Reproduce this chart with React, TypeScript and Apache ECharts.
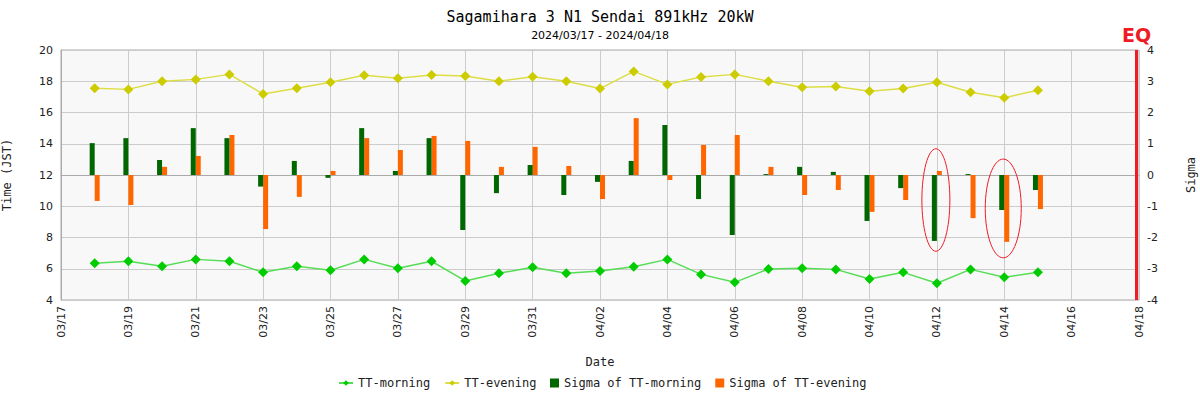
import { useEffect, useRef } from "react"
import * as echarts from "echarts"

// x axis: every day of the window, labels shown every second day
const dates = [
  "03/17", "03/18", "03/19", "03/20", "03/21", "03/22", "03/23", "03/24", "03/25",
  "03/26", "03/27", "03/28", "03/29", "03/30", "03/31", "04/01", "04/02", "04/03",
  "04/04", "04/05", "04/06", "04/07", "04/08", "04/09", "04/10", "04/11", "04/12",
  "04/13", "04/14", "04/15", "04/16", "04/17", "04/18",
]
const firstDay = "03/18"
const eqDay = "04/18"

// time of terminator (JST hours), 03/18 .. 04/15
const ttMorning = [
  6.35, 6.48, 6.16, 6.6, 6.48, 5.77, 6.16, 5.9, 6.6, 6.03, 6.48, 5.22, 5.71, 6.09,
  5.71, 5.86, 6.13, 6.6, 5.64, 5.13, 5.98, 6.03, 5.96, 5.34, 5.77, 5.07, 5.96, 5.45, 5.77,
]
const ttEvening = [
  17.55, 17.48, 18.0, 18.12, 18.44, 17.18, 17.55, 17.93, 18.38, 18.19, 18.4, 18.34, 18.0, 18.29,
  18.0, 17.53, 18.63, 17.8, 18.27, 18.44, 18.0, 17.61, 17.67, 17.36, 17.53, 17.93, 17.29, 16.95, 17.42,
]

// sigma deviations
const sigmaMorning = [
  1.02, 1.18, 0.48, 1.5, 1.18, -0.37, 0.45, -0.09, 1.5, 0.13, 1.18, -1.76, -0.58, 0.32,
  -0.64, -0.22, 0.45, 1.6, -0.77, -1.92, 0.03, 0.26, 0.1, -1.47, -0.42, -2.11, 0.03, -1.12, -0.48,
]
const sigmaEvening = [
  -0.83, -0.96, 0.26, 0.61, 1.28, -1.73, -0.7, 0.13, 1.18, 0.8, 1.25, 1.09, 0.26, 0.9,
  0.29, -0.77, 1.82, -0.16, 0.96, 1.28, 0.26, -0.64, -0.48, -1.18, -0.8, 0.13, -1.38, -2.14, -1.09,
]

// red circled anomalies (centre and half height in sigma units)
const circleDates = ["04/12", "04/14"]
const circleCenters = [-0.8, -1.07]
const circleHalfHeights = [1.64, 1.58]

const MONO = "DejaVu Sans Mono"
const SANS = "DejaVu Sans"
const RED = "#ee1c25"

function pad(values: number[]) {
  const start = dates.indexOf(firstDay)
  return dates.map((_, i) => {
    const k = i - start
    return k >= 0 && k < values.length ? values[k] : null
  })
}

export default function App() {
  const chartRef = useRef<HTMLDivElement>(null)

  useEffect(() => {
    document.body.style.margin = "0"
    if (!chartRef.current) return
    const chart = echarts.init(chartRef.current, undefined, { renderer: "svg" })

    chart.setOption({
      animation: false,
      title: [
        {
          text: "Sagamihara 3 N1 Sendai 891kHz 20kW",
          left: "center",
          top: 4,
          textStyle: { fontFamily: MONO, fontSize: 15, fontWeight: "normal", color: "#000" },
        },
        {
          text: "2024/03/17 - 2024/04/18",
          left: "center",
          top: 25,
          textStyle: { fontFamily: SANS, fontSize: 11, fontWeight: "normal", color: "#000" },
        },
      ],
      legend: [
        {
          data: ["TT-morning", "TT-evening"],
          left: 333,
          top: 372,
          itemWidth: 14,
          itemHeight: 7,
          itemGap: 14,
          textStyle: { fontFamily: MONO, fontSize: 12, color: "#222" },
        },
        {
          data: ["Sigma of TT-morning", "Sigma of TT-evening"],
          left: 545,
          top: 372,
          icon: "rect",
          itemWidth: 9,
          itemHeight: 9,
          itemGap: 14,
          textStyle: { fontFamily: MONO, fontSize: 12, color: "#222" },
        },
      ],
      grid: {
        left: 61,
        right: 61,
        top: 50,
        bottom: 100,
        outerBoundsMode: "none",
        containLabel: false,
        show: true,
        backgroundColor: "#f8f8f8",
        borderColor: "#aaa",
        borderWidth: 1,
      },
      xAxis: {
        type: "category",
        data: dates,
        boundaryGap: false,
        name: "Date",
        nameLocation: "middle",
        nameGap: 56,
        nameTextStyle: { fontFamily: MONO, fontSize: 12, color: "#222" },
        axisLine: { lineStyle: { color: "#aaa" } },
        axisTick: { show: false },
        axisLabel: {
          interval: 1,
          rotate: 90,
          margin: 6,
          fontFamily: SANS,
          fontSize: 11,
          color: "#222",
        },
        splitLine: { show: true, interval: 1, lineStyle: { color: "#ccc" } },
      },
      yAxis: [
        {
          type: "value",
          min: 4,
          max: 20,
          interval: 2,
          name: "Time (JST)",
          nameLocation: "middle",
          nameGap: 48,
          nameTextStyle: { fontFamily: MONO, fontSize: 12, color: "#222" },
          axisLine: { show: true, lineStyle: { color: "#aaa" } },
          axisTick: { show: false },
          axisLabel: { fontFamily: SANS, fontSize: 11, color: "#222", margin: 8 },
          splitLine: { lineStyle: { color: "#ccc" } },
        },
        {
          type: "value",
          min: -4,
          max: 4,
          interval: 1,
          position: "right",
          name: "Sigma",
          nameLocation: "middle",
          nameRotate: 90,
          nameGap: 46,
          nameTextStyle: { fontFamily: MONO, fontSize: 12, color: "#222" },
          axisLine: { show: false },
          axisTick: { show: false },
          axisLabel: { fontFamily: SANS, fontSize: 11, color: "#222", margin: 8 },
          splitLine: { show: false },
        },
      ],
      series: [
        {
          name: "TT-morning",
          type: "line",
          data: pad(ttMorning),
          symbol: "diamond",
          symbolSize: 10,
          itemStyle: { color: "#00cc00" },
          lineStyle: { color: "#55dd55", width: 1.5 },
          z: 5,
        },
        {
          name: "TT-evening",
          type: "line",
          data: pad(ttEvening),
          symbol: "diamond",
          symbolSize: 10,
          itemStyle: { color: "#cccc00" },
          lineStyle: { color: "#dddd44", width: 1.5 },
          z: 5,
        },
        {
          name: "Sigma of TT-morning",
          type: "bar",
          yAxisIndex: 1,
          data: pad(sigmaMorning),
          barWidth: 5,
          barGap: "0%",
          itemStyle: { color: "#006600" },
          z: 10,
          markLine: {
            silent: true,
            symbol: "none",
            lineStyle: { color: RED, width: 3, type: "solid", opacity: 1 },
            label: {
              show: true,
              position: "end",
              formatter: "EQ",
              distance: 6,
              color: RED,
              fontFamily: SANS,
              fontSize: 19,
              fontWeight: "bold",
            },
            data: [{ xAxis: eqDay }],
          },
        },
        {
          name: "Sigma of TT-evening",
          type: "bar",
          yAxisIndex: 1,
          data: pad(sigmaEvening),
          barWidth: 5,
          barGap: "0%",
          itemStyle: { color: "#ff6600" },
        },
      ],
    })

    // ellipses placed through the sigma axis scale
    const rx = [14, 18]
    const ellipses = circleDates.map((d, i) => {
      const [cx, cy] = chart.convertToPixel({ seriesIndex: 2 }, [d, circleCenters[i]])
      const [, top] = chart.convertToPixel({ seriesIndex: 2 }, [d, circleCenters[i] + circleHalfHeights[i]])
      return {
        type: "ellipse",
        shape: { cx: cx - 1, cy, rx: rx[i], ry: cy - top },
        style: { fill: "none", stroke: RED, lineWidth: 1 },
        z: 10,
        silent: true,
      }
    })
    chart.setOption({ graphic: ellipses })

    return () => chart.dispose()
  }, [])

  return <div ref={chartRef} style={{ width: "1200px", height: "400px" }} />
}
